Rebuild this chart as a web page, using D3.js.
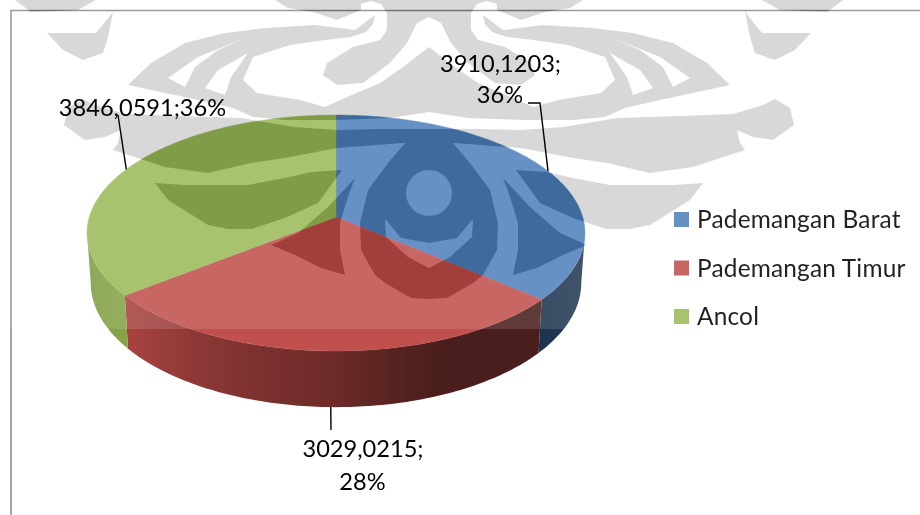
<!DOCTYPE html>
<html>
<head>
<meta charset="utf-8">
<script src="https://cdn.jsdelivr.net/npm/d3@7"></script>
<style>
  html, body { margin: 0; padding: 0; background: #fff; }
  svg { display: block; }
  text { font-family: Lato, "Open Sans", sans-serif; }
</style>
</head>
<body>
<div id="chart"></div>
<script>
// Kecamatan Pademangan, 3D pie with legend
const categories = ["Pademangan Barat", "Pademangan Timur", "Ancol"];
const values = [3910.1203, 3029.0215, 3846.0591];
const colors = ["#4F81BD", "#C0504D", "#9BBB59"];

const svgWidth = 920;
const svgHeight = 515;

// Perspective disc: top face and bottom face of the pie
const centerX = 336;
const topY = 217;
const radiusX = 246.7;
const radiusY = 115.8;
const persp = 0.1356;
const bottomY = 266;
const bottomScale = 0.985;
const bottomRadiusY = 122;

const total = d3.sum(values);
const pie = d3.pie().sort(null);
const slices = pie(values);
const line = d3.line();

function project(angle, face) {
  const u = Math.sin(angle);
  const v = -Math.cos(angle);
  const w = 1 - persp * v;
  if (face === "bottom") {
    return [centerX + bottomScale * radiusX * u / w, bottomY + bottomRadiusY * v / w];
  }
  return [centerX + radiusX * u / w, topY + radiusY * v / w];
}

function rim(a0, a1, face) {
  const steps = Math.max(2, Math.ceil(Math.abs(a1 - a0) * 60));
  return d3.range(steps + 1).map(i => project(a0 + (a1 - a0) * i / steps, face));
}

const svg = d3.select("#chart")
  .append("svg")
  .attr("width", svgWidth)
  .attr("height", svgHeight);

svg.append("rect")
  .attr("width", svgWidth)
  .attr("height", svgHeight)
  .attr("fill", "#fff");

// Chart frame, open on the right and bottom
svg.append("path")
  .attr("d", "M920,10.5H11V515")
  .attr("fill", "none")
  .attr("stroke", "#8c8c8c")
  .attr("stroke-width", 1.6);

// Side wall shading runs left to right
const defs = svg.append("defs");
const sideStops = [
  [[540, "#1c3350"], [585, "#263a52"]],
  [[128, "#a8423f"], [200, "#8c3836"], [267, "#7a302e"], [330, "#6e2b29"], [400, "#552320"], [440, "#4a1e1c"], [540, "#4a1e1c"]],
  [[88, "#7f9d44"], [128, "#86a447"]]
];
sideStops.forEach((stops, i) => {
  const x0 = stops[0][0];
  const x1 = stops[stops.length - 1][0];
  const grad = defs.append("linearGradient")
    .attr("id", "side" + i)
    .attr("gradientUnits", "userSpaceOnUse")
    .attr("x1", x0).attr("x2", x1).attr("y1", 0).attr("y2", 0);
  stops.forEach(s => {
    grad.append("stop")
      .attr("offset", (s[0] - x0) / (x1 - x0))
      .attr("stop-color", s[1]);
  });
});

// Only the part of the wall facing the viewer is drawn
const frontFrom = Math.acos(-persp);
const frontTo = 2 * Math.PI - frontFrom;

svg.append("g").selectAll("path")
  .data(slices)
  .enter()
  .append("path")
  .attr("d", d => {
    const a0 = Math.max(d.startAngle, frontFrom);
    const a1 = Math.min(d.endAngle, frontTo);
    return line(rim(a0, a1, "top").concat(rim(a1, a0, "bottom"))) + "Z";
  })
  .attr("fill", (d, i) => `url(#side${i})`);

svg.append("g").selectAll("path")
  .data(slices)
  .enter()
  .append("path")
  .attr("d", d => line([[centerX, topY]].concat(rim(d.startAngle, d.endAngle, "top"))) + "Z")
  .attr("fill", (d, i) => colors[i])
  .attr("stroke", (d, i) => colors[i])
  .attr("stroke-width", 0.4);

// Legend
const legendY = d3.scalePoint()
  .domain(categories)
  .range([219.5, 316.5]);

const legend = svg.append("g").selectAll("g")
  .data(categories)
  .enter()
  .append("g")
  .attr("transform", d => `translate(674, ${legendY(d)})`);

legend.append("rect")
  .attr("y", -7.5)
  .attr("width", 15)
  .attr("height", 15)
  .attr("fill", (d, i) => colors[i]);

legend.append("text")
  .attr("x", 23)
  .attr("y", 8.5)
  .attr("font-size", 24.4)
  .attr("letter-spacing", 0.2)
  .attr("fill", "#000")
  .text(d => d);

// Pale wash over the upper part of the page
svg.append("rect")
  .attr("width", svgWidth)
  .attr("height", 329)
  .attr("fill", "#fff")
  .attr("fill-opacity", 0.13);

// Background emblem, right half of each shape. Shapes that touch the
// axis get closed through their own mirror image.
const axisX = 429;
const mirror = p => [2 * axisX - p[0], p[1]];
const emblemJoined = [
  [[429,0],[583,0],[570,8],[545,12],[521,20],[497,10],[497,4],[487,1],[477,4],[471,13],[471,30],[478,40],[505,47],[531,63],[535,75],[521,85],[495,83],[468,63],[451,43],[441,23],[429,17]],
  [[429,47],[455,67],[478,83],[511,97],[533,107],[558,100],[601,93],[615,80],[605,57],[568,45],[533,40],[507,37],[492,32],[485,24],[483,15],[503,30],[543,25],[593,28],[633,33],[673,43],[707,63],[730,85],[660,100],[625,108],[605,117],[573,120],[521,120],[468,118],[429,112]],
  [[429,129],[478,129],[521,130],[563,127],[617,118],[680,116],[733,114],[763,105],[775,99],[790,108],[794,125],[773,140],[753,137],[737,130],[740,143],[745,150],[693,167],[650,173],[607,163],[573,158],[521,148],[455,143],[429,143]],
  [[429,143],[453,143],[470,163],[490,190],[498,223],[497,250],[483,275],[473,283],[447,298],[429,299]]
];
const emblemPaired = [
  [[762,0],[780,10],[827,12],[843,0]],
  [[745,12],[762,33],[811,33],[795,50],[775,60],[755,53],[750,37]],
  [[516,170],[547,172],[573,178],[610,185],[673,185],[703,183],[690,200],[650,225],[630,229],[606,229],[573,218],[540,203]],
  [[503,178],[530,207],[560,233],[587,245],[563,255],[537,268],[513,275],[518,250],[518,223],[510,197]],
  [[613,38],[660,57],[690,78],[673,87],[663,67],[640,50]],
  [[610,53],[640,70],[653,88],[633,95],[627,77]],
  [[472,220],[473,220],[472,237],[450,257],[429,268],[429,243],[457,238]]
];
// The hole in the middle of the ring
const emblemHole = d3.range(24).map(i => {
  const a = i / 24 * 2 * Math.PI;
  return [axisX + 23 * Math.cos(a), 193 + 23 * Math.sin(a)];
});

let emblemPath = "";
emblemJoined.forEach(pts => {
  emblemPath += line(pts.concat(pts.slice().reverse().map(mirror))) + "Z";
});
emblemPaired.forEach(pts => {
  emblemPath += line(pts) + "Z" + line(pts.map(mirror)) + "Z";
});
emblemPath += line(emblemHole) + "Z";

svg.append("path")
  .attr("d", emblemPath)
  .attr("fill", "#272727")
  .attr("fill-rule", "evenodd")
  .style("mix-blend-mode", "difference");

// Data labels with their leader lines
const labelText = values.map(v => String(v).replace(".", ",") + ";");
const percentText = values.map(v => Math.round(v / total * 100) + "%");
const midAngle = slices.map(d => (d.startAngle + d.endAngle) / 2);

const leaders = [
  [[528, 103], [540, 103], project(midAngle[0], "top")],
  [project(midAngle[1], "bottom"), [331, 430]],
  [[118, 115], project(midAngle[2], "top")]
];

svg.append("g").selectAll("path")
  .data(leaders)
  .enter()
  .append("path")
  .attr("d", d => line(d))
  .attr("fill", "none")
  .attr("stroke", "#000")
  .attr("stroke-width", 1.4);

const labelLines = [
  [[labelText[0], 500.5, 72], [percentText[0], 500, 103]],
  [[labelText[1], 363, 457], [percentText[1], 362.5, 490]],
  [[labelText[2] + percentText[2], 142.5, 116]]
];

svg.append("g").selectAll("text")
  .data(labelLines.flat())
  .enter()
  .append("text")
  .attr("x", d => d[1])
  .attr("y", d => d[2])
  .attr("text-anchor", "middle")
  .attr("font-size", 23.6)
  .attr("fill", "#000")
  .text(d => d[0]);
</script>
</body>
</html>
